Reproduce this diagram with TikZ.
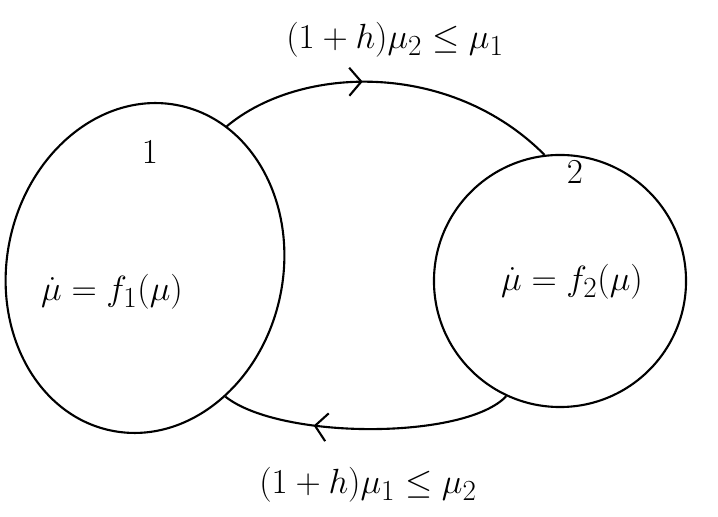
\documentclass[tikz,border=0pt]{standalone}
\usepackage{amsmath}
\usepackage{amssymb}
\usetikzlibrary{arrows.meta,decorations.markings,shapes.geometric}
\tikzset{
  location/.style={draw, line width=1.5pt, inner sep=0pt},
  loc text/.style={font=\fontsize{28}{32}\selectfont},
  loc label/.style={font=\fontsize{26}{30}\selectfont},
  guard/.style={font=\fontsize{29}{33}\selectfont},
  jump/.style={line width=1.5pt, postaction={decorate}, decoration={markings,
    mark=at position #1 with {\arrow{Straight Barb[length=3mm,width=7mm,line width=1.5pt]}}}}
}
\begin{document}
\begin{tikzpicture}[x=0.025cm, y=-0.025cm]
  \useasboundingbox (0,0) rectangle (718,517);
  % locations
  \node[location, ellipse, rotate=-12, minimum width=6.9cm, minimum height=8.3cm] (one) at (145,268) {};
  \node[location, circle, minimum size=6.3cm] (two) at (560,281) {};
  \node[loc label] (lone) at (150,152) {$1$};
  \node[loc label] (ltwo) at (575,172) {$2$};
  \node[loc text] (flowone) at (112,292) {$\dot{\mu} = f_1(\mu)$};
  \node[loc text] (flowtwo) at (572,282) {$\dot{\mu} = f_2(\mu)$};
  % jumps
  \draw[jump=0.42] (one.72) .. controls (300,65) and (450,60) .. (two.97);
  \draw[jump=0.68] (two.245) .. controls (465,440) and (280,440) .. (one.-46);
  \node[guard] (gtop) at (395,40) {$(1+h)\mu_2 \le \mu_1$};
  \node[guard] (gbot) at (368,485) {$(1+h)\mu_1 \le \mu_2$};
\end{tikzpicture}
\end{document}
